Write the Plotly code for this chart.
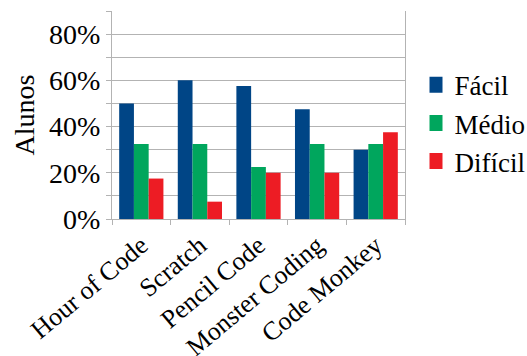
import plotly.graph_objects as go

categories = ["Hour of Code", "Scratch", "Pencil Code", "Monster Coding", "Code Monkey"]
facil = [0.50, 0.60, 0.575, 0.475, 0.30]
medio = [0.325, 0.325, 0.225, 0.325, 0.325]
dificil = [0.175, 0.075, 0.20, 0.20, 0.375]
series_names = ["Fácil", "Médio", "Difícil"]
colors = ["#004586", "#00a65d", "#ed1c24"]

FONT = "Liberation Serif"

fig = go.Figure()
for name, vals, col in zip(series_names, [facil, medio, dificil], colors):
    fig.add_trace(go.Bar(x=categories, y=vals, name=name, marker_color=col,
                         marker_line_width=0, showlegend=False))
for name, col in zip(series_names, colors):
    fig.add_trace(go.Scatter(x=[None], y=[None], mode="markers", name=name,
                             marker=dict(symbol="square", size=16, color=col)))

fig.update_layout(
    width=527, height=356,
    margin=dict(l=112, r=122, t=11, b=137),
    paper_bgcolor="white", plot_bgcolor="white",
    barmode="group", bargap=0.245, bargroupgap=0,
    font=dict(family=FONT, color="black", size=27),
    legend=dict(x=0.815, xref="container", xanchor="left", y=0.46, yanchor="middle",
                font=dict(size=27), tracegroupgap=0, indentation=-15,
                itemwidth=30, bgcolor="rgba(0,0,0,0)", borderwidth=0),
    xaxis=dict(type="category", showline=True, linecolor="#b3b3b3", linewidth=1,
               ticks="outside", tickson="boundaries", ticklen=5, tickcolor="#b3b3b3",
               tickangle=-40, tickfont=dict(size=26),
               automargin=False, showgrid=False),
    yaxis=dict(range=[0, 0.9], dtick=0.2, tick0=0, tickformat=".0%",
               showline=True, mirror=True, linecolor="#b3b3b3", linewidth=1,
               ticks="outside", ticklen=5, tickcolor="#b3b3b3",
               showgrid=True, gridcolor="#b3b3b3", gridwidth=1,
               minor=dict(dtick=0.1, showgrid=True, gridcolor="#b3b3b3",
                          ticks="outside", ticklen=5, tickcolor="#b3b3b3"),
               tickfont=dict(size=28), automargin=False,
               zeroline=False,
               title=dict(text="Alunos", font=dict(size=28), standoff=6)),
)

fig.write_html("out.html")
